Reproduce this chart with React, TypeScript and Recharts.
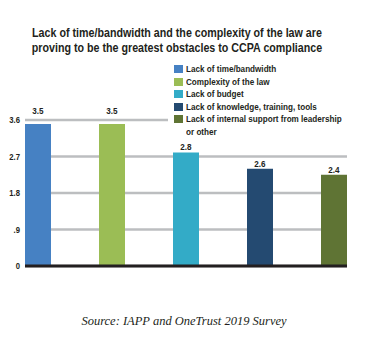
import React from 'react';
import { BarChart, Bar, XAxis, YAxis, CartesianGrid, Cell, LabelList } from 'recharts';

const categories = [
 'Lack of time/bandwidth',
 'Complexity of the law',
 'Lack of budget',
 'Lack of knowledge, training, tools',
 'Lack of internal support from leadership or other',
];
// bar heights as drawn in the picture
const barHeights = [3.5, 3.5, 2.8, 2.4, 2.25];
// printed value labels
const valueLabels = ['3.5', '3.5', '2.8', '2.6', '2.4'];
const colors = ['#4681c3', '#9bbd55', '#33abc7', '#244a71', '#5f7434'];
const yTicks = [0, 0.9, 1.8, 2.7, 3.6];

const data = categories.map((name, i) => ({ name, value: barHeights[i], label: valueLabels[i] }));

// no condensed face installed, so squeeze Liberation Sans Bold
const FONT = '"Liberation Sans", Arial, sans-serif';
const SQUEEZE = 0.855;
const INK = '#231f20';

const fmtTick = (v: number) => (v === 0 ? '0' : v < 1 ? String(v).replace(/^0/, '') : v.toFixed(1));

const YTick = (props: any) => {
 const { x, y, payload } = props;
 return (
  <text
   transform={`translate(${x},${y}) scale(${SQUEEZE},1)`}
   dy="0.35em"
   textAnchor="end"
   fontFamily={FONT}
   fontWeight="bold"
   fontSize={9}
   fill={INK}
  >
   {fmtTick(payload.value)}
  </text>
 );
};

const ValueLabel = (props: any) => {
 const { x, y, width, value } = props;
 const nearTop = parseFloat(value) >= yTicks[yTicks.length - 1] - 0.2;
 return (
  <text
   transform={`translate(${x + width / 2},${nearTop ? y - 10 : y - 2}) scale(${SQUEEZE},1)`}
   textAnchor="middle"
   fontFamily={FONT}
   fontWeight="bold"
   fontSize={9.5}
   fill={INK}
  >
   {value}
  </text>
 );
};

const LegendBox = () => (
 <div style={{ position: 'absolute', left: 168, top: 63, width: 190, padding: '0 0 4px 6px', background: '#fff', fontFamily: FONT, fontWeight: 'bold', fontSize: 9.5, color: INK, lineHeight: '12.5px' }}>
  {categories.map((c, i) => (
   <div key={c} style={{ display: 'flex', alignItems: 'flex-start' }}>
    <span style={{ width: 9, height: 8, background: colors[i], marginTop: 2, marginRight: 3, flex: 'none' }} />
    <span style={{ width: 185, flex: 'none', transform: `scaleX(${SQUEEZE})`, transformOrigin: 'left' }}>{c}</span>
   </div>
  ))}
 </div>
);

export default function App() {
 return (
  <div style={{ position: 'absolute', left: 0, top: 0, width: 371, height: 352, background: '#fff', overflow: 'hidden' }}>
   <div style={{ position: 'absolute', top: 25.7, left: 0, width: 354, textAlign: 'center', fontFamily: FONT, fontWeight: 'bold', fontSize: 12.5, lineHeight: '15px', color: INK }}>
    <div style={{ transform: `scaleX(${SQUEEZE})`, whiteSpace: 'nowrap' }}>
     Lack of time/bandwidth and the complexity of the law are
     <br />
     proving to be the greatest obstacles to CCPA compliance
    </div>
   </div>
   <BarChart
    width={371}
    height={352}
    data={data}
    margin={{ top: 120, right: 24, bottom: 84, left: 0 }}
    style={{ position: 'absolute', left: 0, top: 0 }}
   >
    <CartesianGrid vertical={false} stroke="#bcbec0" strokeWidth={2.5} horizontalValues={yTicks} />
    <XAxis dataKey="name" tick={false} tickLine={false} height={2} axisLine={{ stroke: INK, strokeWidth: 3 }} padding={{ left: -24, right: -24 }} />
    <YAxis
     domain={[0, 3.6]}
     ticks={yTicks}
     width={25}
     axisLine={false}
     tickLine={false}
     tickSize={0}
     tickMargin={5}
     tick={<YTick />}
    />
    <Bar dataKey="value" barSize={26} isAnimationActive={false}>
     {data.map((d, i) => (
      <Cell key={d.name} fill={colors[i]} />
     ))}
     <LabelList dataKey="label" content={<ValueLabel />} />
    </Bar>
   </BarChart>
   <LegendBox />
   <div style={{ position: 'absolute', top: 314, left: 0, width: 368, textAlign: 'center', fontFamily: '"Liberation Serif", serif', fontStyle: 'italic', fontSize: 12.5, color: INK }}>
    Source: IAPP and OneTrust 2019 Survey
   </div>
  </div>
 );
}
